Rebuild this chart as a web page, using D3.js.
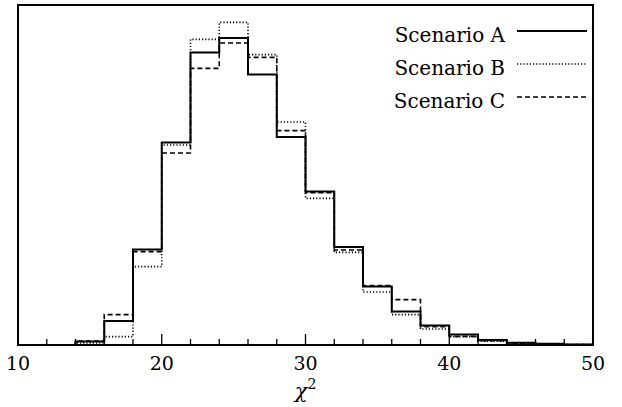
<!DOCTYPE html>
<html>
<head>
<meta charset="utf-8">
<script src="https://cdn.jsdelivr.net/npm/d3@7"></script>
<style>
  body { margin: 0; background: #fff; }
</style>
</head>
<body>
<div id="chart"></div>
<script>
// bin edges (chi^2), 2 units wide
var binEdges = [10,12,14,16,18,20,22,24,26,28,30,32,34,36,38,40,42,44,46,48,50];

// counts per bin
var scenarioA = [0,0,17,120,478,1012,1462,1535,1353,1040,767,490,292,168,97,52,25,11,6,3];
var scenarioB = [0,0,10,42,392,1000,1528,1613,1452,1115,733,463,265,152,80,41,19,9,4,2];
var scenarioC = [0,0,20,152,467,960,1383,1510,1438,1072,762,475,297,227,92,43,21,10,5,2];

var seriesNames = ["Scenario A", "Scenario B", "Scenario C"];
var xTickLabels = [10, 20, 30, 40, 50];

var FONT = "'DejaVu Serif'";

var svg_width = 622, svg_height = 407;
var margin = {top: 5, right: 29, bottom: 62, left: 18};

var xScale = d3.scaleLinear().domain([10, 50]).range([margin.left, svg_width - margin.right]);
var yScale = d3.scaleLinear().domain([0, 1700]).range([svg_height - margin.bottom, margin.top]);

var svg = d3.select("#chart").append("svg")
	.attr("width", svg_width)
	.attr("height", svg_height)
	.attr("font-family", FONT);

// series styles
var styles = [
	{data: scenarioA, width: 2, dash: null},
	{data: scenarioB, width: 1.6, dash: "1.2,2"},
	{data: scenarioC, width: 1.6, dash: "5,3"}
];

// step line for one histogram
var stepLine = d3.line()
	.x(function(d) { return xScale(d[0]); })
	.y(function(d) { return yScale(d[1]); })
	.curve(d3.curveStepAfter);

function histPoints(counts) {
	var pts = counts.map(function(c, i) { return [binEdges[i], c]; });
	pts.push([binEdges[binEdges.length - 1], counts[counts.length - 1]]);
	return pts;
}

// draw in reverse so the solid line ends on top
styles.slice().reverse().forEach(function(s) {
	svg.append("path")
		.attr("d", stepLine(histPoints(s.data)))
		.attr("fill", "none")
		.attr("stroke", "#000")
		.attr("stroke-width", s.width)
		.attr("stroke-dasharray", s.dash);
});

// x axis: inward ticks every 2, longer at labelled ones
var y0 = yScale(0);
svg.selectAll(".tick-line")
	.data(d3.range(10, 51, 2))
	.enter()
	.append("line")
	.attr("x1", function(d) { return xScale(d); })
	.attr("x2", function(d) { return xScale(d); })
	.attr("y1", y0)
	.attr("y2", function(d) { return y0 - (d % 10 == 0 ? 11 : 6); })
	.attr("stroke", "#000")
	.attr("stroke-width", 1.3);

svg.selectAll(".tick-label")
	.data(xTickLabels)
	.enter()
	.append("text")
	.attr("x", function(d) { return xScale(d); })
	.attr("y", 370)
	.attr("text-anchor", "middle")
	.attr("font-family", FONT)
	.style("font-size", "19px")
	.text(function(d) { return d; });

// axis label chi^2
var xl = svg.append("text")
	.attr("x", (margin.left + svg_width - margin.right) / 2)
	.attr("y", 398)
	.attr("text-anchor", "middle")
	.attr("font-family", FONT)
	.style("font-size", "21px");
xl.append("tspan").style("font-style", "italic").text("\u03C7");
xl.append("tspan").attr("dy", -9).style("font-size", "14px").text("2");

// frame
svg.append("rect")
	.attr("x", margin.left)
	.attr("y", margin.top)
	.attr("width", svg_width - margin.left - margin.right)
	.attr("height", svg_height - margin.top - margin.bottom)
	.attr("fill", "none")
	.attr("stroke", "#000")
	.attr("stroke-width", 2);

// legend
var legend = svg.selectAll(".legend")
	.data(seriesNames)
	.enter()
	.append("g")
	.attr("class", "legend")
	.attr("transform", function(d, i) { return "translate(0," + (41.5 + i * 33) + ")"; });

legend.append("text")
	.attr("x", 505)
	.attr("y", 0)
	.attr("text-anchor", "end")
	.attr("font-family", FONT)
	.style("font-size", "20px")
	.text(function(d) { return d; });

legend.append("line")
	.attr("x1", 517)
	.attr("x2", 587)
	.attr("y1", -10.5)
	.attr("y2", -10.5)
	.attr("stroke", "#000")
	.attr("stroke-width", function(d, i) { return i == 0 ? 1.8 : 1.4; })
	.attr("stroke-dasharray", function(d, i) { return styles[i].dash; });
</script>
</body>
</html>
